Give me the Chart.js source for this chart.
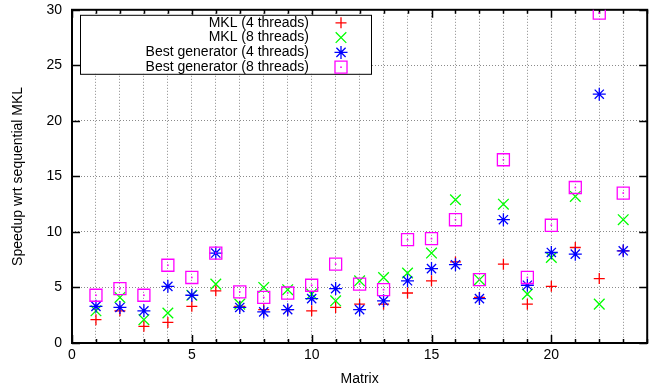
<!DOCTYPE html>
<html>
<head>
<meta charset="utf-8">
<script src="https://cdn.jsdelivr.net/npm/chart.js@4/dist/chart.umd.min.js"></script>
<style>
  html, body { margin: 0; padding: 0; background: #fff; }
  #wrap { width: 657px; height: 389px; }
</style>
</head>
<body>
<div id="wrap"><canvas id="myChart" width="657" height="389"></canvas></div>
<script>
// values (speedup vs sequential MKL, per matrix)
const matrices = [1, 2, 3, 4, 5, 6, 7, 8, 9, 10, 11, 12, 13, 14, 15, 16, 17, 18, 19, 20, 21, 22, 23];
const mkl4 = [2.1, 2.9, 1.5, 1.85, 3.3, 4.7, 3.3, 3.0, 3.0, 2.9, 3.2, 3.5, 3.5, 4.5, 5.6, 7.3, 4.1, 7.1, 3.5, 5.1, 8.6, 5.8, 8.3];
const mkl8 = [2.9, 4.1, 2.1, 2.7, 4.3, 5.3, 3.5, 5.0, 4.8, 4.4, 3.8, 5.6, 5.9, 6.3, 8.1, 12.9, 5.7, 12.5, 4.4, 7.7, 13.2, 3.5, 11.1];
const gen4 = [3.3, 3.2, 2.9, 5.1, 4.3, 8.1, 3.2, 2.8, 3.0, 4.0, 4.9, 3.0, 3.8, 5.6, 6.7, 7.05, 4.0, 11.1, 5.2, 8.15, 8.0, 22.4, 8.3];
const gen8 = [4.3, 4.9, 4.3, 7.0, 5.9, 8.1, 4.6, 4.1, 4.5, 5.2, 7.1, 5.3, 4.8, 9.3, 9.4, 11.1, 5.7, 16.5, 5.9, 10.6, 14.0, 29.7, 13.5];

const seriesLabels = ["MKL (4 threads)", "MKL (8 threads)", "Best generator (4 threads)", "Best generator (8 threads)"];
const xLabelTicks = [0, 5, 10, 15, 20];

const FONT = "'Liberation Sans', Arial, Helvetica, sans-serif";

function pts(ys) {
  return matrices.map((m, i) => ({ x: m, y: ys[i] }));
}

// frame + inward tick marks like gnuplot (mirrored on all sides)
const framePlugin = {
  id: "frame",
  beforeDatasetsDraw(chart) {
    const { ctx, chartArea: a, scales } = chart;
    ctx.save();
    ctx.strokeStyle = "#000";
    ctx.lineWidth = 1.5;
    ctx.beginPath();
    for (let v = 0; v <= 24; v++) {
      const x = Math.round(scales.x.getPixelForValue(v)) + 0.5;
      const len = v % 5 === 0 ? 8 : 4;
      ctx.moveTo(x, a.bottom); ctx.lineTo(x, a.bottom - len);
      ctx.moveTo(x, a.top); ctx.lineTo(x, a.top + len);
    }
    for (let v = 0; v <= 30; v += 5) {
      const y = Math.round(scales.y.getPixelForValue(v)) + 0.5;
      ctx.moveTo(a.left, y); ctx.lineTo(a.left + 8, y);
      ctx.moveTo(a.right, y); ctx.lineTo(a.right - 8, y);
    }
    ctx.stroke();
    ctx.lineWidth = 2;
    ctx.strokeRect(a.left, a.top, a.right - a.left, a.bottom - a.top);
    ctx.restore();
  }
};

// little dot in the middle of the squares + the boxed legend
const extrasPlugin = {
  id: "extras",
  afterDatasetsDraw(chart) {
    const { ctx, chartArea: a } = chart;
    ctx.save();
    const meta = chart.getDatasetMeta(3);
    ctx.fillStyle = "#ff00ff";
    meta.data.forEach(p => { ctx.fillRect(p.x - 0.8, p.y - 0.8, 1.6, 1.6); });

    // legend
    const bx = a.left + 8, by = a.top + 5, bw = 291, bh = 59;
    ctx.fillStyle = "#fff";
    ctx.fillRect(bx, by, bw, bh);
    ctx.strokeStyle = "#000";
    ctx.lineWidth = 1;
    ctx.strokeRect(bx + 0.5, by + 0.5, bw, bh);
    ctx.font = "14px " + FONT;
    ctx.textAlign = "right";
    ctx.textBaseline = "middle";
    chart.data.datasets.forEach((ds, i) => {
      const y = by + 8 + i * 14.8;
      ctx.fillStyle = "#000";
      ctx.fillText(ds.label, bx + 229, y);
      ctx.strokeStyle = ds.borderColor;
      ctx.lineWidth = ds.pointBorderWidth;
      ctx.fillStyle = "rgba(0,0,0,0)";
      Chart.helpers.drawPoint(ctx, {
        pointStyle: ds.pointStyle, radius: ds.pointRadius, rotation: 0,
        borderWidth: ds.pointBorderWidth
      }, bx + 261, y);
      if (i === 3) {
        ctx.fillStyle = ds.borderColor;
        ctx.fillRect(bx + 261 - 0.8, y - 0.8, 1.6, 1.6);
      }
    });
    ctx.restore();
  }
};

const mk = (label, ys, color, style, r, order) => ({
  label: label,
  data: pts(ys),
  borderColor: color,
  backgroundColor: "rgba(0,0,0,0)",
  pointStyle: style,
  pointRadius: r,
  pointHoverRadius: r,
  pointBorderWidth: 1.3,
  showLine: false,
  order: order
});

new Chart(document.getElementById("myChart"), {
  type: "scatter",
  data: {
    datasets: [
      mk(seriesLabels[0], mkl4, "#ff0000", "cross", 5.5, 4),
      mk(seriesLabels[1], mkl8, "#00ff00", "crossRot", 7.5, 3),
      mk(seriesLabels[2], gen4, "#0000ff", "star", 6.5, 2),
      mk(seriesLabels[3], gen8, "#ff00ff", "rect", 8.5, 1)
    ]
  },
  options: {
    responsive: false,
    animation: false,
    layout: { padding: { top: 9, right: 9, left: 0, bottom: 0 } },
    plugins: { legend: { display: false }, tooltip: { enabled: false } },
    scales: {
      x: {
        type: "linear", min: 0, max: 24,
        afterFit: s => { s.height = 46; s.paddingLeft = 0; s.paddingRight = 0; },
        ticks: {
          stepSize: 1, autoSkip: false, maxRotation: 0, padding: 4,
          color: "#000", font: { family: FONT, size: 14 },
          callback: v => xLabelTicks.includes(v) ? String(v) : ""
        },
        grid: { color: "#8a8a8a", lineWidth: 1, drawTicks: false },
        border: { display: false, dash: [1, 2] },
        title: { display: true, text: "Matrix", color: "#000",
                 font: { family: FONT, size: 14 }, padding: { top: 0, bottom: 1 } }
      },
      y: {
        min: 0, max: 30,
        afterFit: s => { s.width = 72; s.paddingTop = 0; s.paddingBottom = 0; },
        ticks: { stepSize: 5, padding: 10, color: "#000", font: { family: FONT, size: 14 } },
        grid: { color: "#8a8a8a", lineWidth: 1, drawTicks: false },
        border: { display: false, dash: [1, 2] },
        title: { display: true, text: "Speedup wrt sequential MKL", color: "#000",
                 font: { family: FONT, size: 14 }, padding: { top: 10, bottom: 0 } }
      }
    }
  },
  plugins: [framePlugin, extrasPlugin]
});
</script>
</body>
</html>
